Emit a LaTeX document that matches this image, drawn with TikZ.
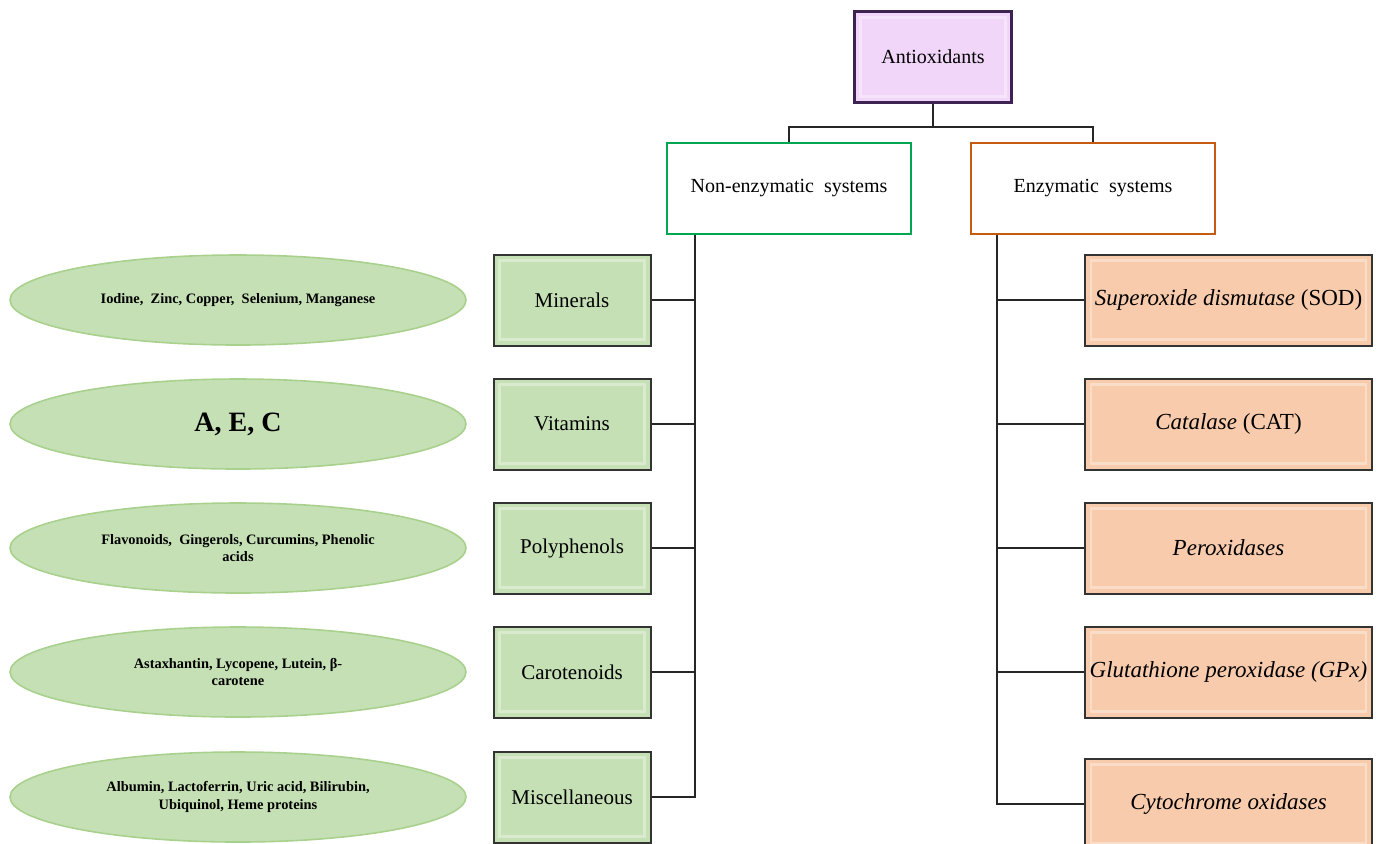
\documentclass[tikz,border=0pt]{standalone}
\usepackage{fontspec}
\setmainfont{Liberation Serif}
\usetikzlibrary{shapes.geometric}

\definecolor{antifill}{HTML}{F2D6F9}
\definecolor{antiline}{HTML}{3D2352}
\definecolor{greenfill}{HTML}{C5E0B4}
\definecolor{ellline}{HTML}{A9D18E}
\definecolor{orangefill}{HTML}{F8CBAD}
\definecolor{nonline}{HTML}{00A650}
\definecolor{enzline}{HTML}{C55A11}

\tikzset{
  bevel/.style={path picture={
    \draw[white, opacity=.35, line width=1.2pt]
      ([shift={(3pt,-3pt)}]path picture bounding box.north west) rectangle
      ([shift={(-3pt,3pt)}]path picture bounding box.south east);}},
  topbox/.style={draw=antiline, fill=antifill, line width=1.1pt, bevel,
    minimum width=78.5pt, minimum height=45.5pt, font=\fontsize{10}{12}\selectfont},
  sysbox/.style={draw, fill=white, line width=1pt,
    minimum width=122pt, minimum height=45.5pt, font=\fontsize{10}{12}\selectfont},
  greenbox/.style={draw=black!80, fill=greenfill, line width=1pt, bevel,
    minimum width=78.5pt, minimum height=45.5pt, font=\fontsize{10.5}{12}\selectfont},
  orangebox/.style={draw=black!80, fill=orangefill, line width=1pt, bevel, inner xsep=1pt,
    minimum width=143.5pt, minimum height=45.5pt, font=\fontsize{11.5}{13}\selectfont},
  oval/.style={ellipse, draw=ellline, fill=greenfill, line width=.8pt, inner sep=0pt,
    minimum width=228pt, minimum height=45pt, align=center,
    font=\bfseries\fontsize{7.2}{8.6}\selectfont},
  link/.style={draw=black!85, line width=.75pt}
}

\begin{document}
\begin{tikzpicture}[x=0.5pt,y=-0.5pt]
\useasboundingbox (0,0) rectangle (1380,843);

\node[topbox] (anti) at (933,57) {Antioxidants};
\node[sysbox, draw=nonline] (nonenz) at (789,188) {Non-enzymatic\ \ systems};
\node[sysbox, draw=enzline] (enz) at (1093,188) {Enzymatic\ \ systems};

% non-enzymatic branch
\node[greenbox] (minerals) at (572,300) {Minerals};
\node[greenbox] (vitamins) at (572,424) {Vitamins};
\node[greenbox] (polyph) at (572,548) {Polyphenols};
\node[greenbox] (carot) at (572,672) {Carotenoids};
\node[greenbox] (misc) at (572,797) {Miscellaneous};

\node[oval] (minerals-ex) at (238,300) {Iodine,\ \ Zinc, Copper,\ \ Selenium, Manganese};
\node[oval, font=\bfseries\fontsize{14}{16}\selectfont] (vitamins-ex) at (238,424) {A, E, C};
\node[oval] (polyph-ex) at (238,548) {Flavonoids,\ \ Gingerols, Curcumins, Phenolic\\acids};
\node[oval] (carot-ex) at (238,672) {Astaxhantin, Lycopene, Lutein, β-\\carotene};
\node[oval] (misc-ex) at (238,797) {Albumin,\ Lactoferrin, Uric acid, Bilirubin,\\Ubiquinol,\ Heme proteins};

% enzymatic branch
\node[orangebox] (sod) at (1228.5,300) {\textit{Superoxide dismutase} (SOD)};
\node[orangebox] (cat) at (1228.5,424) {\textit{Catalase} (CAT)};
\node[orangebox] (perox) at (1228.5,548) {\textit{Peroxidases}};
\node[orangebox] (gpx) at (1228.5,672) {\textit{Glutathione peroxidase (GPx)}};
\node[orangebox] (cyto) at (1228.5,804) {\textit{Cytochrome oxidases}};

% connectors
\coordinate (bar) at (933,127);
\draw[link] (anti.south) -- (bar);
\draw[link] (nonenz.north) |- (bar) -| (enz.north);

\coordinate (ltop) at ([xshift=14.5pt]nonenz.south west);
\draw[link] (ltop) |- (misc.east);
\foreach \n in {minerals,vitamins,polyph,carot}
  \draw[link] (\n.east) -- (\n.east -| ltop);

\coordinate (rtop) at ([xshift=13.5pt]enz.south west);
\draw[link] (rtop) |- (cyto.west);
\foreach \n in {sod,cat,perox,gpx}
  \draw[link] (\n.west) -- (\n.west -| rtop);

\end{tikzpicture}
\end{document}
